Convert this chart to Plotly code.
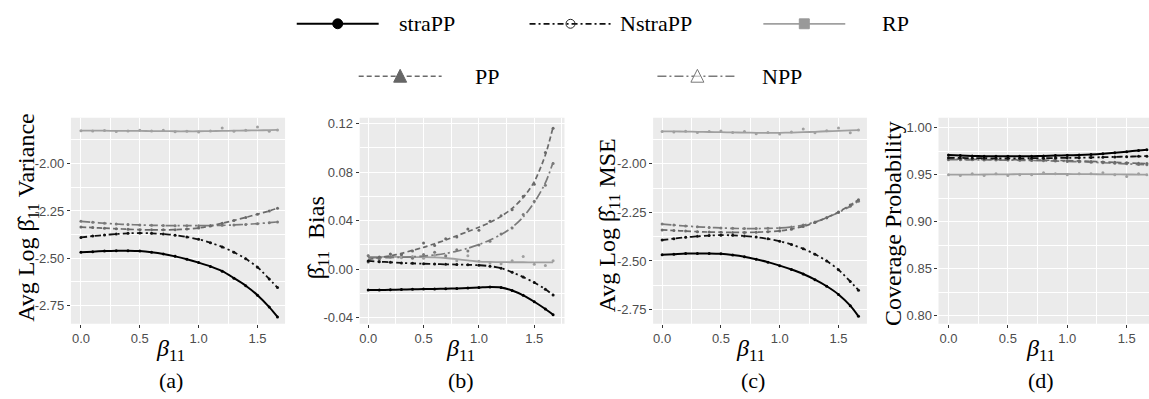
import plotly.graph_objects as go

W, H = 1149, 399

# ---------------- data ----------------
beta11 = [0.0, 0.1, 0.2, 0.3, 0.4, 0.5, 0.6, 0.7, 0.8, 0.9, 1.0, 1.1, 1.2, 1.3, 1.4, 1.5, 1.6, 1.67]

series_names = ["straPP", "NstraPP", "RP", "PP", "NPP"]

# (a) Avg log variance
strapp_a = [-2.468, -2.465, -2.462, -2.460, -2.460, -2.462, -2.468, -2.477, -2.490, -2.505, -2.523, -2.543, -2.568, -2.605, -2.645, -2.695, -2.758, -2.810]
nstrapp_a = [-2.390, -2.383, -2.377, -2.372, -2.368, -2.367, -2.368, -2.372, -2.378, -2.388, -2.400, -2.418, -2.440, -2.468, -2.503, -2.547, -2.610, -2.655]
rp_a = [-1.826, -1.826, -1.826, -1.827, -1.827, -1.827, -1.828, -1.828, -1.829, -1.829, -1.829, -1.828, -1.827, -1.826, -1.825, -1.824, -1.823, -1.822]
rp_a_pts = [-1.826, -1.828, -1.825, -1.830, -1.827, -1.824, -1.827, -1.823, -1.832, -1.829, -1.833, -1.827, -1.812, -1.829, -1.823, -1.806, -1.829, -1.822]
pp_a = [-2.335, -2.338, -2.341, -2.344, -2.347, -2.349, -2.350, -2.350, -2.349, -2.346, -2.340, -2.330, -2.315, -2.300, -2.284, -2.267, -2.250, -2.236]
npp_a = [-2.305, -2.310, -2.315, -2.319, -2.322, -2.324, -2.326, -2.327, -2.328, -2.328, -2.328, -2.327, -2.326, -2.324, -2.321, -2.317, -2.312, -2.308]

# (b) bias
strapp_b = [-0.0172, -0.0171, -0.0170, -0.0168, -0.0166, -0.0164, -0.0162, -0.0160, -0.0158, -0.0155, -0.0151, -0.0146, -0.0150, -0.0175, -0.0215, -0.0268, -0.0328, -0.0375]
nstrapp_b = [0.0068, 0.0062, 0.0057, 0.0052, 0.0048, 0.0045, 0.0042, 0.0040, 0.0038, 0.0036, 0.0033, 0.0025, 0.0008, -0.0025, -0.0065, -0.0110, -0.0165, -0.0212]
rp_b = [0.0102, 0.0102, 0.0101, 0.0101, 0.0100, 0.0099, 0.0097, 0.0092, 0.0083, 0.0072, 0.0063, 0.0060, 0.0058, 0.0057, 0.0057, 0.0056, 0.0056, 0.0056]
rp_b_pts = [0.0110, 0.0085, 0.0120, 0.0095, 0.0105, 0.0090, 0.0115, 0.0100, 0.0070, 0.0110, 0.0065, 0.0050, 0.0045, 0.0070, 0.0105, 0.0040, 0.0030, 0.0070]
pp_b = [0.0080, 0.0095, 0.0110, 0.0130, 0.0155, 0.0180, 0.0210, 0.0240, 0.0275, 0.0310, 0.0345, 0.0385, 0.0435, 0.0500, 0.0590, 0.0720, 0.0940, 0.1170]
pp_b_pts = [0.0060, 0.0100, 0.0125, 0.0120, 0.0150, 0.0215, 0.0195, 0.0250, 0.0265, 0.0330, 0.0320, 0.0395, 0.0440, 0.0490, 0.0600, 0.0700, 0.0960, 0.1160]
npp_b = [0.0095, 0.0095, 0.0096, 0.0098, 0.0102, 0.0108, 0.0117, 0.0130, 0.0148, 0.0172, 0.0203, 0.0240, 0.0285, 0.0345, 0.0430, 0.0550, 0.0710, 0.0880]
npp_b_pts = [0.0110, 0.0080, 0.0100, 0.0120, 0.0090, 0.0120, 0.0140, 0.0110, 0.0160, 0.0150, 0.0200, 0.0230, 0.0290, 0.0340, 0.0450, 0.0560, 0.0690, 0.0870]

# (c) Avg log MSE
strapp_c = [-2.468, -2.465, -2.462, -2.461, -2.461, -2.463, -2.469, -2.478, -2.491, -2.506, -2.524, -2.544, -2.567, -2.596, -2.630, -2.672, -2.730, -2.785]
nstrapp_c = [-2.392, -2.385, -2.378, -2.373, -2.369, -2.367, -2.368, -2.371, -2.377, -2.386, -2.398, -2.415, -2.437, -2.465, -2.500, -2.545, -2.605, -2.650]
rp_c = [-1.833, -1.833, -1.834, -1.835, -1.836, -1.837, -1.838, -1.839, -1.840, -1.840, -1.840, -1.839, -1.837, -1.835, -1.832, -1.830, -1.828, -1.826]
rp_c_pts = [-1.833, -1.836, -1.832, -1.838, -1.834, -1.831, -1.838, -1.833, -1.845, -1.838, -1.846, -1.836, -1.820, -1.840, -1.829, -1.815, -1.840, -1.826]
pp_c = [-2.340, -2.343, -2.346, -2.349, -2.351, -2.352, -2.353, -2.353, -2.352, -2.349, -2.345, -2.336, -2.322, -2.302, -2.277, -2.248, -2.212, -2.185]
npp_c = [-2.310, -2.315, -2.320, -2.324, -2.327, -2.330, -2.332, -2.333, -2.333, -2.332, -2.330, -2.325, -2.315, -2.299, -2.277, -2.250, -2.218, -2.192]

# (d) coverage probability
strapp_d = [0.9710, 0.9705, 0.9700, 0.9697, 0.9695, 0.9695, 0.9695, 0.9697, 0.9700, 0.9703, 0.9706, 0.9710, 0.9715, 0.9722, 0.9732, 0.9745, 0.9758, 0.9765]
nstrapp_d = [0.9680, 0.9678, 0.9676, 0.9675, 0.9674, 0.9674, 0.9674, 0.9675, 0.9676, 0.9677, 0.9679, 0.9681, 0.9683, 0.9686, 0.9689, 0.9692, 0.9695, 0.9697]
rp_d = [0.9500, 0.9500, 0.9501, 0.9502, 0.9503, 0.9504, 0.9505, 0.9506, 0.9507, 0.9507, 0.9507, 0.9506, 0.9505, 0.9504, 0.9503, 0.9502, 0.9501, 0.9500]
rp_d_pts = [0.9500, 0.9490, 0.9510, 0.9490, 0.9510, 0.9490, 0.9500, 0.9500, 0.9520, 0.9510, 0.9500, 0.9510, 0.9510, 0.9520, 0.9500, 0.9480, 0.9510, 0.9500]
pp_d = [0.9665, 0.9664, 0.9663, 0.9662, 0.9661, 0.9660, 0.9659, 0.9657, 0.9655, 0.9652, 0.9649, 0.9645, 0.9641, 0.9636, 0.9631, 0.9626, 0.9621, 0.9618]
npp_d = [0.9660, 0.9659, 0.9658, 0.9657, 0.9656, 0.9655, 0.9653, 0.9651, 0.9648, 0.9645, 0.9641, 0.9637, 0.9632, 0.9627, 0.9621, 0.9615, 0.9609, 0.9605]

x_tickvals = [0.0, 0.5, 1.0, 1.5]
x_ticktext = ["0.0", "0.5", "1.0", "1.5"]
ya_tickvals = [-2.75, -2.50, -2.25, -2.00]
ya_ticktext = ["-2.75", "-2.50", "-2.25", "-2.00"]
yb_tickvals = [-0.04, 0.00, 0.04, 0.08, 0.12]
yb_ticktext = ["-0.04", "0.00", "0.04", "0.08", "0.12"]
yd_tickvals = [0.80, 0.85, 0.90, 0.95, 1.00]
yd_ticktext = ["0.80", "0.85", "0.90", "0.95", "1.00"]

BHAT = "β̂"
y_titles = ["Avg Log " + BHAT + "<sub>11</sub> Variance", BHAT + "<sub>11</sub>  Bias",
            "Avg Log " + BHAT + "<sub>11</sub> MSE", "Coverage Probability"]
x_title = "<i>β</i><sub>11</sub>"
panel_labels = ["(a)", "(b)", "(c)", "(d)"]

# ---------------- styles ----------------
styles = {
    "straPP": dict(color="black", width=2.0, dash="solid"),
    "NstraPP": dict(color="#111111", width=1.8, dash="6px,3px,2px,3px"),
    "RP": dict(color="#a0a0a0", width=1.8, dash="solid"),
    "PP": dict(color="#6a6a6a", width=1.7, dash="5px,3px"),
    "NPP": dict(color="#7a7a7a", width=1.7, dash="9px,3px,2px,3px"),
}

SERIF = "Liberation Serif"

def px(xp):
    return xp / W

def py(yp):
    return 1 - yp / H

panels = [
    dict(x0=70, x1=284.3, xr=[-0.0849, 1.734], yr=[-2.846, -1.758],
         yv=ya_tickvals, yt=ya_ticktext, ydt=0.125,
         data={"RP": (rp_a, rp_a_pts), "NPP": (npp_a, npp_a), "PP": (pp_a, pp_a),
               "NstraPP": (nstrapp_a, nstrapp_a), "straPP": (strapp_a, strapp_a)},
         ytx=27, yty=217, xtx=170, ptx=170),
    dict(x0=359, x1=564, xr=[-0.077, 1.773], yr=[-0.0449, 0.1246],
         yv=yb_tickvals, yt=yb_ticktext, ydt=0.02,
         data={"RP": (rp_b, rp_b_pts), "NPP": (npp_b, npp_b_pts), "PP": (pp_b, pp_b_pts),
               "NstraPP": (nstrapp_b, nstrapp_b), "straPP": (strapp_b, strapp_b)},
         ytx=317, yty=238, xtx=460, ptx=460),
    dict(x0=652.7, x1=866.7, xr=[-0.0765, 1.742], yr=[-2.823, -1.763],
         yv=ya_tickvals, yt=ya_ticktext, ydt=0.125,
         data={"RP": (rp_c, rp_c_pts), "NPP": (npp_c, npp_c), "PP": (pp_c, pp_c),
               "NstraPP": (nstrapp_c, nstrapp_c), "straPP": (strapp_c, strapp_c)},
         ytx=608, yty=225, xtx=750, ptx=753),
    dict(x0=938.3, x1=1149, xr=[-0.084, 1.688], yr=[0.7913, 1.0105],
         yv=yd_tickvals, yt=yd_ticktext, ydt=0.025,
         data={"RP": (rp_d, rp_d_pts), "NPP": (npp_d, npp_d), "PP": (pp_d, pp_d),
               "NstraPP": (nstrapp_d, nstrapp_d), "straPP": (strapp_d, strapp_d)},
         ytx=893, yty=224, xtx=1040, ptx=1041),
]

PLOT_TOP, PLOT_BOT = 117, 325

fig = go.Figure()
annotations = []
for i, p in enumerate(panels):
    k = "" if i == 0 else str(i + 1)
    xa, ya = "x" + k, "y" + k
    for name in ["RP", "NPP", "PP", "NstraPP", "straPP"]:
        fit, pts = p["data"][name]
        st = styles[name]
        fig.add_trace(go.Scatter(
            x=beta11, y=fit, mode="lines", xaxis=xa, yaxis=ya, showlegend=False,
            line=dict(color=st["color"], width=st["width"], dash=st["dash"], shape="spline", smoothing=0.8),
            hoverinfo="skip"))
        fig.add_trace(go.Scatter(
            x=beta11, y=pts, mode="markers", xaxis=xa, yaxis=ya, showlegend=False,
            marker=dict(color=st["color"], size=3, symbol="circle"), hoverinfo="skip"))
    axis_common = dict(showline=False, zeroline=False, ticks="outside", ticklen=3, tickwidth=1,
                       tickcolor="#333333", showgrid=True, gridcolor="white", gridwidth=1.1,
                       tickfont=dict(family="Arial", size=13, color="#4d4d4d"))
    fig.layout["xaxis" + k] = dict(
        domain=[px(p["x0"]), px(p["x1"])], range=p["xr"], anchor=ya,
        tickmode="array", tickvals=x_tickvals, ticktext=x_ticktext,
        minor=dict(tickmode="linear", tick0=0.25, dtick=0.5, showgrid=True, gridcolor="white", gridwidth=0.5, ticks=""),
        **axis_common)
    fig.layout["yaxis" + k] = dict(
        domain=[py(PLOT_BOT), py(PLOT_TOP)], range=p["yr"], anchor=xa,
        tickmode="array", tickvals=p["yv"], ticktext=p["yt"],
        minor=dict(tickmode="linear", tick0=p["yv"][0] + p["ydt"], dtick=2 * p["ydt"], showgrid=True,
                   gridcolor="white", gridwidth=0.5, ticks=""),
        **axis_common)
    fig.add_shape(type="rect", xref="paper", yref="paper", x0=px(p["x0"]), x1=px(p["x1"]),
                  y0=py(PLOT_BOT), y1=py(PLOT_TOP), fillcolor="#ebebeb", line=dict(width=0), layer="below")
    annotations.append(dict(text=y_titles[i], x=px(p["ytx"]), y=py(p["yty"]), xref="paper", yref="paper",
                            textangle=-90, showarrow=False, xanchor="center", yanchor="middle",
                            font=dict(family=SERIF, size=24, color="black")))
    annotations.append(dict(text=x_title, x=px(p["xtx"]), y=py(352), xref="paper", yref="paper",
                            showarrow=False, xanchor="center", yanchor="middle",
                            font=dict(family=SERIF, size=24, color="black")))
    annotations.append(dict(text=panel_labels[i], x=px(p["ptx"]), y=py(382), xref="paper", yref="paper",
                            showarrow=False, xanchor="center", yanchor="middle",
                            font=dict(family=SERIF, size=22, color="black")))

# ---------------- custom legend ----------------
legend_items = [
    ("straPP", 296, 378, 22, "circle_filled", 396),
    ("NstraPP", 529, 611, 22, "circle_open", 618),
    ("RP", 763, 845, 22, "square", 880),
    ("PP", 358, 441, 75, "tri_filled", 472),
    ("NPP", 657, 737, 75, "tri_open", 760),
]
for name, lx0, lx1, ly, mk, tx in legend_items:
    st = styles[name]
    fig.add_shape(type="line", xref="paper", yref="paper", x0=px(lx0), x1=px(lx1), y0=py(ly), y1=py(ly),
                  line=dict(color=st["color"], width=st["width"], dash=st["dash"]))
    cx = (lx0 + lx1) / 2
    if mk == "circle_filled":
        fig.add_shape(type="circle", xref="paper", yref="paper", x0=px(cx - 5), x1=px(cx + 5),
                      y0=py(ly + 5), y1=py(ly - 5), fillcolor="black", line=dict(color="black", width=1))
    elif mk == "circle_open":
        fig.add_shape(type="circle", xref="paper", yref="paper", x0=px(cx - 4.5), x1=px(cx + 4.5),
                      y0=py(ly + 4.5), y1=py(ly - 4.5), fillcolor="rgba(0,0,0,0)", line=dict(color="#222222", width=1))
    elif mk == "square":
        fig.add_shape(type="rect", xref="paper", yref="paper", x0=px(cx - 5), x1=px(cx + 5),
                      y0=py(ly + 5), y1=py(ly - 5), fillcolor="#999999", line=dict(color="#999999", width=1))
    else:
        fill = "#666666" if mk == "tri_filled" else "rgba(255,255,255,0.6)"
        lc = "#666666" if mk == "tri_filled" else "#777777"
        path = "M {},{} L {},{} L {},{} Z".format(px(cx - 6.5), py(ly + 6), px(cx + 6.5), py(ly + 6), px(cx), py(ly - 7))
        fig.add_shape(type="path", xref="paper", yref="paper", path=path, fillcolor=fill,
                      line=dict(color=lc, width=1))
    annotations.append(dict(text=name, x=px(tx), y=py(ly), xref="paper", yref="paper", showarrow=False,
                            xanchor="left", yanchor="middle",
                            font=dict(family=SERIF, size=22, color="black")))

fig.update_layout(
    width=W, height=H, margin=dict(l=0, r=0, t=0, b=0),
    paper_bgcolor="white", plot_bgcolor="rgba(0,0,0,0)",
    annotations=annotations, showlegend=False,
)

fig.write_html("out.html", config={"displayModeBar": False},
               post_script="document.body.style.margin='0px';document.body.style.overflow='hidden';")
